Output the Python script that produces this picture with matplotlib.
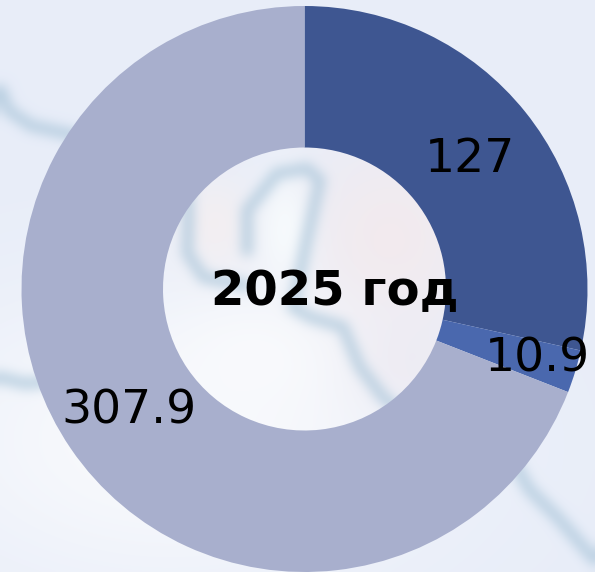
import numpy as np
import matplotlib
matplotlib.use("Agg")
import matplotlib.pyplot as plt

values = [127, 10.9, 307.9]
labels = ["127", "10.9", "307.9"]
colors = ["#3e5691", "#4a68ae", "#a8afcd"]
title = "2025 год"

W, H = 595, 572
fig = plt.figure(figsize=(W / 100, H / 100), dpi=100)

# soft background, blurred map look
bg = fig.add_axes([0, 0, 1, 1])
bg.set_axis_off()
yy, xx = np.mgrid[0:H:286j, 0:W:298j]
img = np.ones(xx.shape + (3,)) * np.array([0.91, 0.93, 0.975])

def blob(cx, cy, sx, sy, col, amount):
    w = amount * np.exp(-((xx - cx) / sx) ** 2 - ((yy - cy) / sy) ** 2)[..., None]
    return img * (1 - w) + np.array(col) * w

img = blob(170, 440, 260, 150, (0.975, 0.98, 0.99), 1.0)  # pale land, lower left
img = blob(390, 240, 90, 100, (0.95, 0.92, 0.935), 1.0)   # pinkish area
img = blob(400, 360, 60, 50, (0.93, 0.92, 0.95), 0.9)
img = blob(215, 225, 40, 50, (0.955, 0.935, 0.945), 0.9)
img = blob(285, 230, 28, 60, (0.965, 0.98, 0.99), 1.0)    # pale strip in the hole
img = blob(255, 360, 90, 65, (0.975, 0.98, 0.99), 1.0)

# blurred coast lines
coast_a_x = [187, 188, 187, 203, 217, 245]
coast_a_y = [190, 217, 253, 277, 280, 285]
coast_b_x = [247, 247, 277, 307, 320, 307, 293, 310, 343, 360, 383, 410]
coast_b_y = [250, 210, 173, 168, 180, 240, 307, 317, 327, 367, 397, 420]
coast_c_x = [0, 8, 30, 75, 90]
coast_c_y = [90, 110, 125, 135, 150]
coast_d_x = [0, 25, 60]
coast_d_y = [378, 384, 380]
coast_e_x = [510, 530, 560, 595]
coast_e_y = [455, 490, 520, 560]

dist = np.full(xx.shape, 1e9)
for cx, cy in [(coast_a_x, coast_a_y), (coast_b_x, coast_b_y), (coast_c_x, coast_c_y),
               (coast_d_x, coast_d_y), (coast_e_x, coast_e_y)]:
    for x0, y0, x1, y1 in zip(cx[:-1], cy[:-1], cx[1:], cy[1:]):
        dx, dy = x1 - x0, y1 - y0
        t = np.clip(((xx - x0) * dx + (yy - y0) * dy) / (dx * dx + dy * dy), 0, 1)
        dist = np.minimum(dist, np.hypot(xx - x0 - t * dx, yy - y0 - t * dy))
w = 0.8 * np.exp(-(dist / 6) ** 2)
# box blur to round the corners
for _ in range(3):
    p = np.pad(w, 2, mode="edge")
    w = sum(p[2 + i:p.shape[0] - 2 + i, 2 + j:p.shape[1] - 2 + j]
            for i in (-2, -1, 0, 1, 2) for j in (-2, -1, 0, 1, 2)) / 25
img = img * (1 - w[..., None]) + np.array([0.66, 0.77, 0.85]) * w[..., None]

bg.imshow(img, extent=[0, W, H, 0], aspect="auto", interpolation="bicubic")
bg.set_xlim(0, W)
bg.set_ylim(H, 0)

# pixel box of the ring: centre 304,289 radius 283
R = 283
ax = fig.add_axes([(304.5 - R) / W, 1 - (289 + R) / H, 2 * R / W, 2 * R / H])
ax.pie(values, colors=colors, startangle=90, counterclock=False, radius=1,
       wedgeprops=dict(width=0.5, edgecolor="none"))
ax.set_xlim(-1, 1)
ax.set_ylim(-1, 1)
ax.set_aspect("equal")

def px(x, y):
    return (x - 304.5) / R, (289 - y) / R

for lab, (x, y) in zip(labels, [(470, 159.5), (537, 359.5), (129, 411.5)]):
    ax.text(*px(x, y), lab, fontsize=34, color="black", ha="center", va="center",
            clip_on=False, family="DejaVu Sans")
ax.text(*px(335, 292), title, fontsize=34.7, fontweight="bold", color="black",
        ha="center", va="center", clip_on=False, family="DejaVu Sans")

fig.savefig("out.png", dpi=100)
